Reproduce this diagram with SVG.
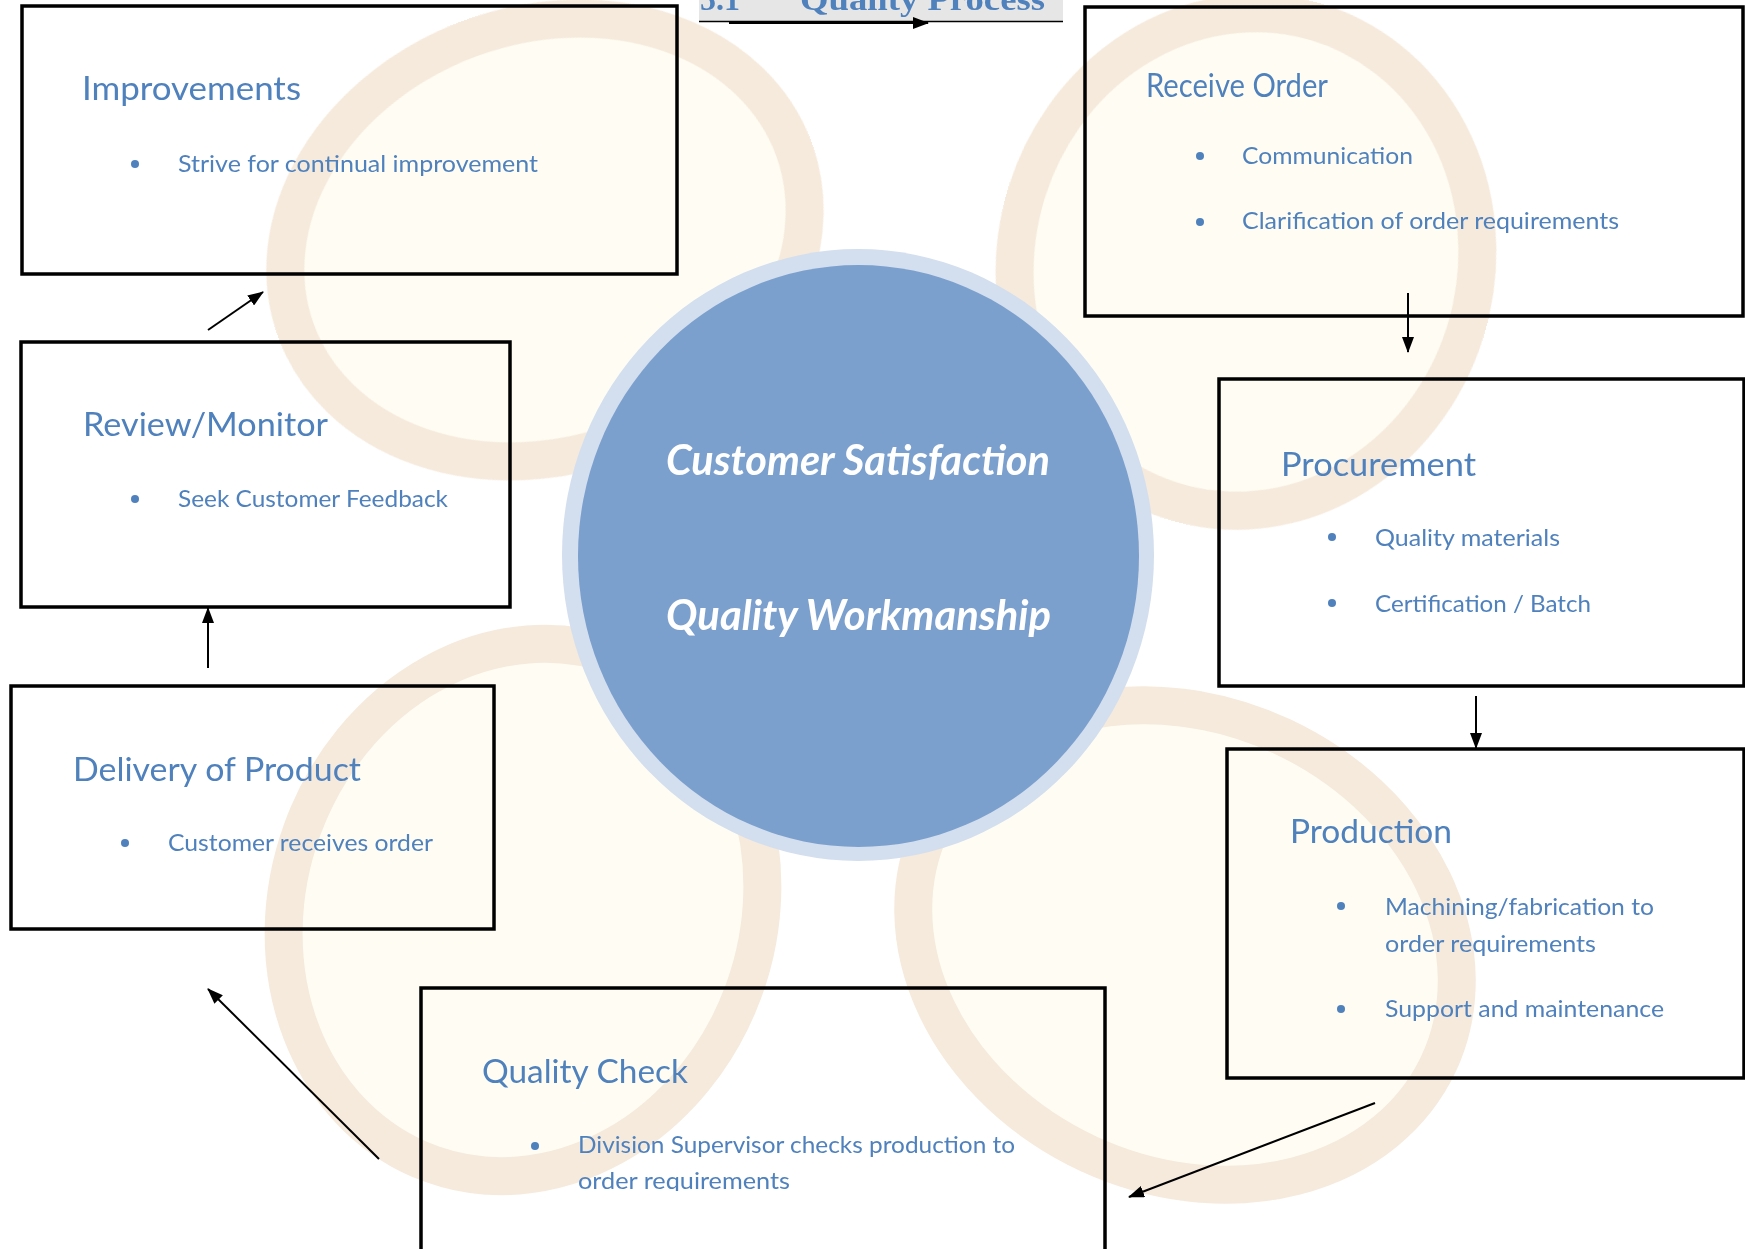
<svg xmlns="http://www.w3.org/2000/svg" width="1745" height="1249" viewBox="0 0 1745 1249">
  <style>
    .box { fill: none; stroke: #000; stroke-width: 3.5; }
    .h { font-family: Lato, "Liberation Sans", sans-serif; font-size: 32px; fill: #4F81BD; }
    .t { font-family: Lato, "Liberation Sans", sans-serif; font-size: 24px; fill: #4F81BD; }
    .dot { fill: #4F81BD; }
    .ct { font-family: Lato, "Liberation Sans", sans-serif; font-size: 42px; font-weight: bold; font-style: italic; fill: #FFFFFF; }
    .conn line { stroke: #000; stroke-width: 2; marker-end: url(#arr); }
    .petal { fill: #FFFCEF; stroke: #F3E3D0; stroke-width: 38; }
  </style>
  <defs>
    <marker id="arr" markerUnits="userSpaceOnUse" markerWidth="16" markerHeight="12" refX="15" refY="6" orient="auto">
      <path d="M0,0 L16,6 L0,12 z" fill="#000"/>
    </marker>
    <clipPath id="qcclip"><rect x="400" y="960" width="720" height="231"/></clipPath>
  </defs>
  <rect width="1745" height="1249" fill="#FFFFFF"/>
  <g id="background" opacity="0.75">
    <ellipse class="petal" cx="545" cy="240" rx="265" ry="215" transform="rotate(-20 545 240)"/>
    <ellipse class="petal" cx="1246" cy="262" rx="230" ry="250" transform="rotate(15 1246 262)"/>
    <ellipse class="petal" cx="523" cy="910" rx="235" ry="270" transform="rotate(20 523 910)"/>
    <ellipse class="petal" cx="1185" cy="945" rx="280" ry="230" transform="rotate(25 1185 945)"/>
  </g>
  <g id="title">
    <rect x="699" y="0" width="364" height="21.5" fill="#E6E6E6"/>
    <text x="700" y="10" font-family="'Liberation Serif', serif" font-weight="bold" font-size="32" fill="#4F81BD">5.1</text>
    <text x="800" y="10" font-family="'Liberation Serif', serif" font-weight="bold" font-size="32" fill="#4F81BD" textLength="245" lengthAdjust="spacingAndGlyphs">Quality Process</text>
    <line x1="699" y1="21.5" x2="1063" y2="21.5" stroke="#000" stroke-width="1.5"/>
  </g>
  <g id="center">
    <ellipse cx="858" cy="555" rx="296" ry="306" fill="#D3DFEE"/>
    <ellipse cx="858.5" cy="556" rx="280.5" ry="291" fill="#7BA0CD"/>
    <text class="ct" x="666" y="475" textLength="384" lengthAdjust="spacingAndGlyphs">Customer Satisfaction</text>
    <text class="ct" x="666" y="630" textLength="385" lengthAdjust="spacingAndGlyphs">Quality Workmanship</text>
  </g>
  <g id="improvements">
    <rect class="box" x="22" y="6" width="655" height="268"/>
    <text class="h" x="82" y="100" textLength="219" lengthAdjust="spacingAndGlyphs">Improvements</text>
    <circle class="dot" cx="135" cy="164" r="4"/>
    <text class="t" x="178" y="172" textLength="360" lengthAdjust="spacingAndGlyphs">Strive for continual improvement</text>
  </g>
  <g id="receive-order">
    <rect class="box" x="1085" y="7" width="658" height="309"/>
    <text class="h" x="1146" y="97" textLength="182" lengthAdjust="spacingAndGlyphs">Receive Order</text>
    <circle class="dot" cx="1200" cy="156" r="4"/>
    <text class="t" x="1242" y="164" textLength="171" lengthAdjust="spacingAndGlyphs">Communication</text>
    <circle class="dot" cx="1200" cy="222" r="4"/>
    <text class="t" x="1242" y="229" textLength="377" lengthAdjust="spacingAndGlyphs">Clarification of order requirements</text>
  </g>
  <g id="procurement">
    <rect class="box" x="1219" y="379" width="525" height="307"/>
    <text class="h" x="1281" y="476" textLength="195" lengthAdjust="spacingAndGlyphs">Procurement</text>
    <circle class="dot" cx="1332" cy="537" r="4"/>
    <text class="t" x="1375" y="546" textLength="185" lengthAdjust="spacingAndGlyphs">Quality materials</text>
    <circle class="dot" cx="1332" cy="603" r="4"/>
    <text class="t" x="1375" y="612" textLength="216" lengthAdjust="spacingAndGlyphs">Certification / Batch</text>
  </g>
  <g id="production">
    <rect class="box" x="1227" y="749" width="517" height="329"/>
    <text class="h" x="1290" y="843" textLength="162" lengthAdjust="spacingAndGlyphs">Production</text>
    <circle class="dot" cx="1341" cy="906" r="4"/>
    <text class="t" x="1385" y="915" textLength="269" lengthAdjust="spacingAndGlyphs">Machining/fabrication to</text>
    <text class="t" x="1385" y="952" textLength="211" lengthAdjust="spacingAndGlyphs">order requirements</text>
    <circle class="dot" cx="1341" cy="1009" r="4"/>
    <text class="t" x="1385" y="1017" textLength="279" lengthAdjust="spacingAndGlyphs">Support and maintenance</text>
  </g>
  <g id="quality-check">
    <rect class="box" x="421" y="988" width="684" height="300"/>
    <text class="h" x="482" y="1083" textLength="206" lengthAdjust="spacingAndGlyphs">Quality Check</text>
    <circle class="dot" cx="535" cy="1146" r="4"/>
    <g clip-path="url(#qcclip)">
      <text class="t" x="578" y="1153" textLength="437" lengthAdjust="spacingAndGlyphs">Division Supervisor checks production to</text>
      <text class="t" x="578" y="1189" textLength="212" lengthAdjust="spacingAndGlyphs">order requirements</text>
    </g>
  </g>
  <g id="delivery">
    <rect class="box" x="11" y="686" width="483" height="243"/>
    <text class="h" x="73" y="781" textLength="288" lengthAdjust="spacingAndGlyphs">Delivery of Product</text>
    <circle class="dot" cx="125" cy="843" r="4"/>
    <text class="t" x="168" y="851" textLength="265" lengthAdjust="spacingAndGlyphs">Customer receives order</text>
  </g>
  <g id="review-monitor">
    <rect class="box" x="21" y="342" width="489" height="265"/>
    <text class="h" x="83" y="436" textLength="245" lengthAdjust="spacingAndGlyphs">Review/Monitor</text>
    <circle class="dot" cx="135" cy="499" r="4"/>
    <text class="t" x="178" y="507" textLength="270" lengthAdjust="spacingAndGlyphs">Seek Customer Feedback</text>
  </g>
  <g id="connectors" class="conn">
    <line x1="729" y1="23" x2="928" y2="23"/>
    <line x1="1408" y1="293" x2="1408" y2="352"/>
    <line x1="1476" y1="696" x2="1476" y2="748"/>
    <line x1="1375" y1="1103" x2="1129" y2="1197"/>
    <line x1="379" y1="1159" x2="208" y2="989"/>
    <line x1="208" y1="668" x2="208" y2="608"/>
    <line x1="208" y1="330" x2="263" y2="292"/>
  </g>
</svg>
